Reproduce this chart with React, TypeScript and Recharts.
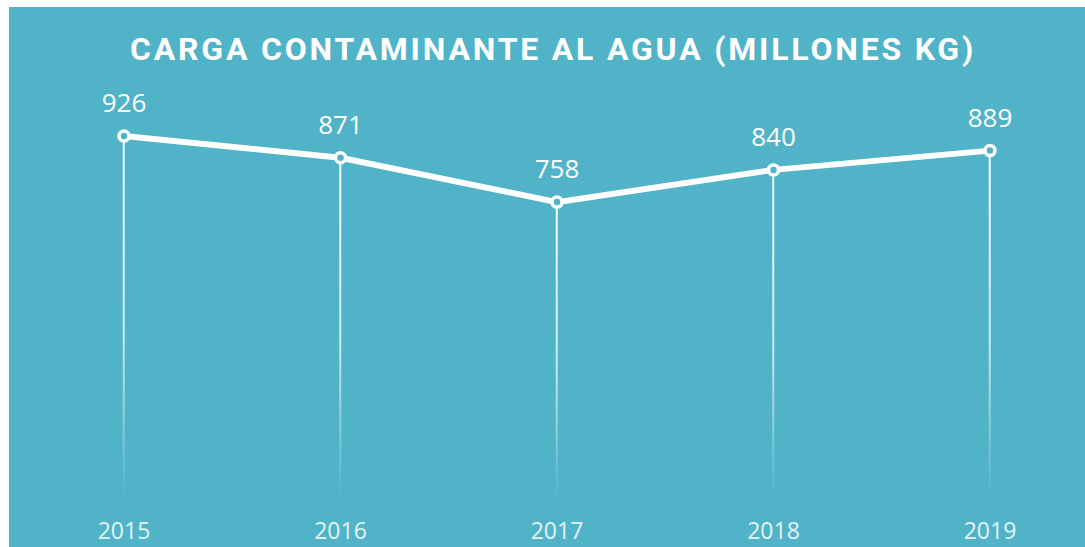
import { Bar, ComposedChart, LabelList, Line, XAxis, YAxis } from "recharts";

/* ===== Data ===== */
const years = ["2015", "2016", "2017", "2018", "2019"];
const carga = [926, 871, 758, 840, 889];

const chartData = years.map((year, i) => ({ year, value: carga[i] }));

const BG = "#50B3C8";

/* ===== Dot: white ring ===== */
const RingDot = ({ cx, cy }: any) => {
  if (cx == null || cy == null) return null;
  return <circle cx={cx} cy={cy} r={5} fill={BG} stroke="#FFFFFF" strokeWidth={3.5} />;
};

export default function App() {
  return (
    <div
      style={{
        position: "absolute",
        left: 9,
        top: 7,
        width: 1076,
        height: 540,
        overflow: "hidden",
        background: BG,
      }}
    >
      {/* Title */}
      <div
        style={{
          position: "absolute",
          top: 26,
          left: 0,
          width: 1088,
          textAlign: "center",
          fontFamily: "Roboto",
          fontWeight: 700,
          fontSize: 32,
          lineHeight: "32px",
          letterSpacing: 2.8,
          color: "#FFFFFF",
          whiteSpace: "nowrap",
        }}
      >
        CARGA CONTAMINANTE AL AGUA (MILLONES KG)
      </div>

      {/* Chart */}
      <ComposedChart
        width={1090}
        height={540}
        data={chartData}
        margin={{ top: 100, right: 0.75, bottom: 0, left: 6.75 }}
      >
        <defs>
          <linearGradient id="dropFade" x1="0" y1="0" x2="0" y2="1">
            <stop offset="0%" stopColor="#FFFFFF" stopOpacity={0.95} />
            <stop offset="55%" stopColor="#FFFFFF" stopOpacity={0.7} />
            <stop offset="100%" stopColor="#FFFFFF" stopOpacity={0} />
          </linearGradient>
        </defs>

        <XAxis
          dataKey="year"
          height={47}
          axisLine={false}
          tickLine={false}
          tickMargin={17}
          interval={0}
          tick={{ fill: "#E2F3F7", fontSize: 23, fontFamily: "Open Sans" }}
        />
        <YAxis hide domain={[0, 1000]} />

        <Bar dataKey="value" barSize={2} fill="url(#dropFade)" isAnimationActive={false} />

        <Line
          type="linear"
          dataKey="value"
          stroke="#FFFFFF"
          strokeWidth={6}
          dot={<RingDot />}
          activeDot={false}
          isAnimationActive={false}
        >
          <LabelList
            dataKey="value"
            position="top"
            offset={24}
            fill="#FFFFFF"
            fontSize={26}
            fontFamily="Open Sans"
          />
        </Line>
      </ComposedChart>
    </div>
  );
}
